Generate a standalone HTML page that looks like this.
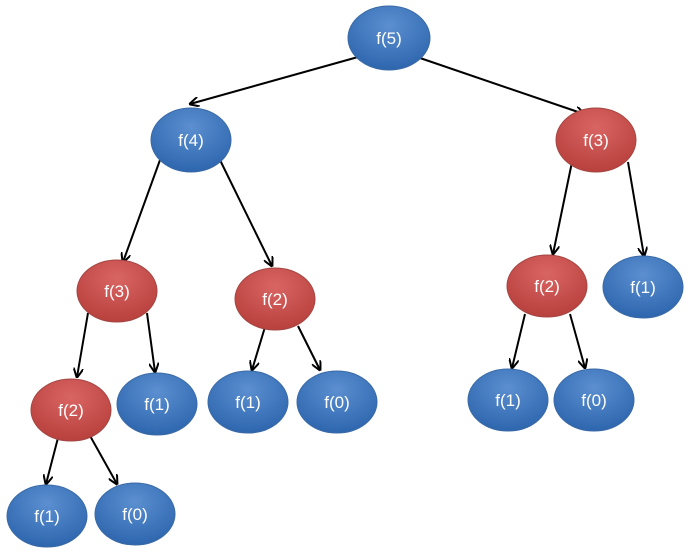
<!DOCTYPE html>
<html><head><style>body{margin:0;background:#fff}svg{display:block}</style></head><body>
<svg width="689" height="554" viewBox="0 0 689 554" xmlns="http://www.w3.org/2000/svg" font-family="Liberation Sans, sans-serif">
<defs>
<radialGradient id="b" cx="50%" cy="30%" r="70%"><stop offset="0" stop-color="#5b8fd0"/><stop offset="1" stop-color="#2e66ae"/></radialGradient>
<radialGradient id="r" cx="50%" cy="30%" r="70%"><stop offset="0" stop-color="#d96562"/><stop offset="1" stop-color="#b8403d"/></radialGradient>
<marker id="a" markerWidth="10" markerHeight="10" refX="9" refY="5" orient="auto" markerUnits="userSpaceOnUse"><path d="M0,0 L10,5 L0,10" fill="none" stroke="#000" stroke-width="2"/></marker>
</defs>
<g stroke="#000" stroke-width="2" marker-end="url(#a)">
<line x1="358" y1="57" x2="190" y2="104"/>
<line x1="420" y1="58" x2="584" y2="114"/>
<line x1="160" y1="160" x2="123" y2="262"/>
<line x1="220" y1="160" x2="272" y2="266"/>
<line x1="572" y1="162" x2="553" y2="254"/>
<line x1="628" y1="162" x2="644" y2="256"/>
<line x1="88" y1="313" x2="77" y2="377"/>
<line x1="147" y1="313" x2="155" y2="372"/>
<line x1="265" y1="327" x2="252" y2="370"/>
<line x1="298" y1="326" x2="320" y2="370"/>
<line x1="525" y1="314" x2="512" y2="368"/>
<line x1="570" y1="314" x2="585" y2="368"/>
<line x1="59" y1="434" x2="46" y2="484"/>
<line x1="89" y1="434" x2="117" y2="484"/>
</g>
<g font-size="17" fill="#fff" text-anchor="middle">
<g stroke="#3a6aa6" stroke-width="1">
<ellipse cx="389" cy="38" rx="41" ry="32" fill="url(#b)"/>
<ellipse cx="191" cy="140" rx="40" ry="32" fill="url(#b)"/>
<ellipse cx="643" cy="287" rx="40" ry="31" fill="url(#b)"/>
<ellipse cx="157" cy="404" rx="40" ry="31" fill="url(#b)"/>
<ellipse cx="248" cy="402" rx="40" ry="31" fill="url(#b)"/>
<ellipse cx="337" cy="402" rx="40" ry="31" fill="url(#b)"/>
<ellipse cx="508" cy="400" rx="40" ry="31" fill="url(#b)"/>
<ellipse cx="594" cy="400" rx="40" ry="31" fill="url(#b)"/>
<ellipse cx="47" cy="516" rx="40" ry="31" fill="url(#b)"/>
<ellipse cx="135" cy="514" rx="40" ry="31" fill="url(#b)"/>
</g>
<g stroke="#a34643" stroke-width="1">
<ellipse cx="596" cy="140" rx="40" ry="32" fill="url(#r)"/>
<ellipse cx="117" cy="291" rx="40" ry="31" fill="url(#r)"/>
<ellipse cx="275" cy="299" rx="40" ry="31" fill="url(#r)"/>
<ellipse cx="547" cy="286" rx="40" ry="31" fill="url(#r)"/>
<ellipse cx="71" cy="410" rx="40" ry="31" fill="url(#r)"/>
</g>
<text x="389" y="44">f(5)</text>
<text x="191" y="146">f(4)</text>
<text x="596" y="146">f(3)</text>
<text x="117" y="297">f(3)</text>
<text x="275" y="305">f(2)</text>
<text x="547" y="292">f(2)</text>
<text x="643" y="293">f(1)</text>
<text x="71" y="416">f(2)</text>
<text x="157" y="410">f(1)</text>
<text x="248" y="408">f(1)</text>
<text x="337" y="408">f(0)</text>
<text x="508" y="406">f(1)</text>
<text x="594" y="406">f(0)</text>
<text x="47" y="522">f(1)</text>
<text x="135" y="520">f(0)</text>
</g>
</svg>
</body></html>
